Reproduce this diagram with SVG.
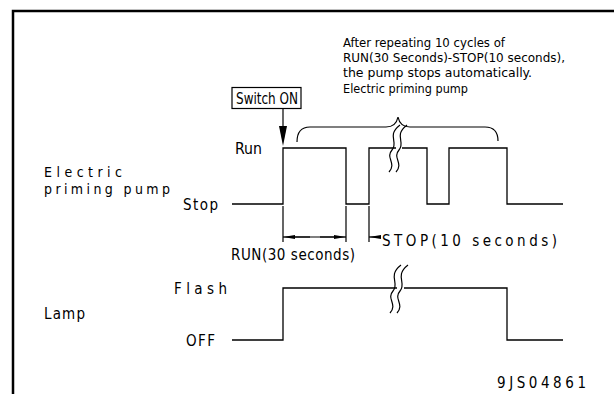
<svg xmlns="http://www.w3.org/2000/svg" width="614" height="394" viewBox="0 0 614 394">
<style>
.t{font-family:"DejaVu Sans","Liberation Sans",Arial,sans-serif;font-stretch:condensed;font-size:15px;fill:#000}
.n{font-size:13px}
.s{font-size:14px}
.w{fill:none;stroke:#000;stroke-width:1.3}
.b{fill:none;stroke:#000;stroke-width:1.2}
</style>
<defs>
<marker id="ah" viewBox="0 0 12 6" refX="12" refY="3" markerWidth="12" markerHeight="6" markerUnits="userSpaceOnUse" orient="auto">
<path d="M0,1 L12,3 L0,5 Z" fill="#000"/>
</marker>
</defs>
<rect width="614" height="394" fill="#fff"/>
<g id="frame">
<path d="M13,394 V11 H614" fill="none" stroke="#000" stroke-width="2.5"/>
</g>
<g id="note">
<text class="t n" x="343" y="47" textLength="162" lengthAdjust="spacingAndGlyphs">After repeating 10 cycles of</text>
<text class="t n" x="343" y="62" textLength="222" lengthAdjust="spacingAndGlyphs">RUN(30 Seconds)-STOP(10 seconds),</text>
<text class="t n" x="343" y="77" textLength="189" lengthAdjust="spacingAndGlyphs">the pump stops automatically.</text>
<text class="t n" x="343" y="93" textLength="125" lengthAdjust="spacingAndGlyphs">Electric priming pump</text>
</g>
<g id="switch">
<rect x="232" y="87.5" width="69" height="21" fill="none" stroke="#000" stroke-width="1.2"/>
<text class="t" x="236" y="103.5" textLength="62" lengthAdjust="spacingAndGlyphs">Switch ON</text>
</g>
<g id="labels">
<text class="t" x="235" y="153.5" textLength="27" lengthAdjust="spacingAndGlyphs">Run</text>
<text class="t s" x="44" y="176.5" textLength="78" lengthAdjust="spacing">Electric</text>
<text class="t s" x="44" y="194" textLength="126" lengthAdjust="spacing">priming pump</text>
<text class="t" x="183" y="209.5" textLength="35" lengthAdjust="spacing">Stop</text>
<text class="t" x="231" y="259.5" textLength="124" lengthAdjust="spacing">RUN(30 seconds)</text>
<text class="t" x="382" y="245.5" textLength="175" lengthAdjust="spacing">STOP(10 seconds)</text>
<text class="t" x="174" y="293.5" textLength="53" lengthAdjust="spacing">Flash</text>
<text class="t" x="44" y="318.5" textLength="41" lengthAdjust="spacing">Lamp</text>
<text class="t" x="186" y="345.5" textLength="29" lengthAdjust="spacing">OFF</text>
<text class="t" x="497" y="387.5" textLength="89" lengthAdjust="spacing">9JS04861</text>
</g>
<g id="connectors">
<path class="b" d="M283,108.5 V128"/>
<path d="M279,126 L287,126 L283,146 Z" fill="#000"/>
<path class="b" d="M297,142 Q297,127 310,127 H386 Q396,127 398,117 Q400,127 410,127 H485 Q498,127 498,141"/>
<path class="w" d="M232,204 H283 V148 H346 V204 H369 V148 H427 V204 H449 V148 H507 V204 H563"/>
<path d="M396,148 H402" stroke="#fff" stroke-width="4"/>
<path class="b" d="M400,125 C386,136 399,142 392,150 C385,158 397,163 389,172"/>
<path class="b" d="M407,125 C393,136 406,142 399,150 C392,158 404,163 396,172"/>
<path class="b" d="M283,206 V242 M346,206 V242 M369,206 V242"/>
<path class="b" d="M290,237 H339" />
<path class="b" d="M310,237 H283" marker-end="url(#ah)"/>
<path class="b" d="M320,237 H346" marker-end="url(#ah)"/>
<path class="b" d="M380,237 H369" marker-end="url(#ah)"/>
<path class="w" d="M232,340 H283 V288 H507 V340 H563"/>
<path d="M397,288 H404" stroke="#fff" stroke-width="4"/>
<path class="b" d="M401,265 C387,276 400,283 393,291 C386,299 398,304 390,313"/>
<path class="b" d="M408,265 C394,276 407,283 400,291 C393,299 405,304 397,313"/>
</g>
</svg>
